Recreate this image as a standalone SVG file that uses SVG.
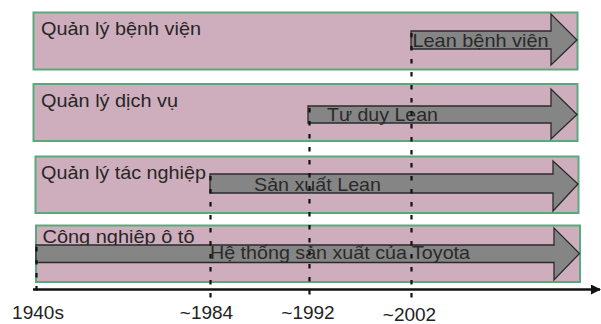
<svg xmlns="http://www.w3.org/2000/svg" width="601" height="324" viewBox="0 0 601 324">
  <defs>
    <marker id="axisHead" markerWidth="10" markerHeight="10" refX="9" refY="5" orient="auto" markerUnits="userSpaceOnUse">
      <path d="M0,0 L10,5 L0,10 Z" fill="#111"/>
    </marker>
  </defs>
  <style>
    .band { fill: #ceaebd; stroke: #5aa97c; stroke-width: 2; }
    .arrow { fill: #858585; stroke: #2b2b2b; stroke-width: 1.3; stroke-linejoin: miter; }
    .lbl { font-family: "Liberation Sans", Arial, sans-serif; font-size: 19px; fill: #262626; }
    .alb { font-family: "Liberation Sans", Arial, sans-serif; font-size: 19px; fill: #2a2a2a; }
    .yr { font-family: "Liberation Sans", Arial, sans-serif; font-size: 19px; fill: #222; text-anchor: middle; }
    .tick { stroke: #111; stroke-width: 2.2; stroke-dasharray: 4.5 8.5; fill: none; }
  </style>

  <rect width="601" height="324" fill="#ffffff"/>

  <!-- Band: hospital management -->
  <g id="hospital">
    <rect class="band" x="33.5" y="12.5" width="544" height="57"/>
    <text class="lbl" x="41" y="35" textLength="160" lengthAdjust="spacingAndGlyphs">Quản lý bệnh viện</text>
    <path class="arrow" d="M411,31 H551 V14 L577,40 L551,65 V49 H411 Z"/>
    <text class="alb" x="412.5" y="46.5" textLength="136" lengthAdjust="spacingAndGlyphs">Lean bệnh viện</text>
  </g>

  <!-- Band: service management -->
  <g id="service">
    <rect class="band" x="33.5" y="84" width="544" height="57"/>
    <text class="lbl" x="41" y="106.5" textLength="137" lengthAdjust="spacingAndGlyphs">Quản lý dịch vụ</text>
    <path class="arrow" d="M308,106 H551 V89 L577,114.5 L551,139 V123 H308 Z"/>
    <text class="alb" x="327" y="121" textLength="111" lengthAdjust="spacingAndGlyphs">Tư duy Lean</text>
  </g>

  <!-- Band: operations management -->
  <g id="operations">
    <rect class="band" x="35.5" y="156.5" width="543" height="56.5"/>
    <text class="lbl" x="41" y="178.5" textLength="165" lengthAdjust="spacingAndGlyphs">Quản lý tác nghiệp</text>
    <path class="arrow" d="M210,174 H553 V161 L578,184 L553,211 V193 H210 Z"/>
    <text class="alb" x="254" y="190.5" textLength="127" lengthAdjust="spacingAndGlyphs">Sản xuất Lean</text>
  </g>

  <!-- Band: automotive industry -->
  <g id="automotive">
    <rect class="band" x="36" y="225.5" width="544" height="56.5"/>
    <text class="lbl" x="42.5" y="242.5" textLength="152" lengthAdjust="spacingAndGlyphs">Công nghiệp ô tô</text>
    <path class="arrow" d="M36,245 H554 V228 L579.5,253.5 L554,280 V262.5 H36 Z"/>
    <text class="alb" x="210" y="259" textLength="260" lengthAdjust="spacingAndGlyphs">Hệ thống sản xuất của Toyota</text>
  </g>

  <!-- Time axis and milestone markers -->
  <g id="connectors">
    <line x1="33" y1="289.5" x2="600" y2="289.5" stroke="#111" stroke-width="2.5" marker-end="url(#axisHead)"/>
    <line class="tick" x1="36.5" y1="247" x2="36.5" y2="299"/>
    <line class="tick" x1="210.5" y1="176" x2="210.5" y2="299"/>
    <line class="tick" x1="309.5" y1="108" x2="309.5" y2="299"/>
    <line class="tick" x1="411.5" y1="33" x2="411.5" y2="299"/>
  </g>

  <!-- Year labels -->
  <g id="years">
    <text class="yr" x="38" y="318.5">1940s</text>
    <text class="yr" x="206.5" y="318.5">~1984</text>
    <text class="yr" x="308" y="318.5">~1992</text>
    <text class="yr" x="409.5" y="320.5">~2002</text>
  </g>
</svg>
